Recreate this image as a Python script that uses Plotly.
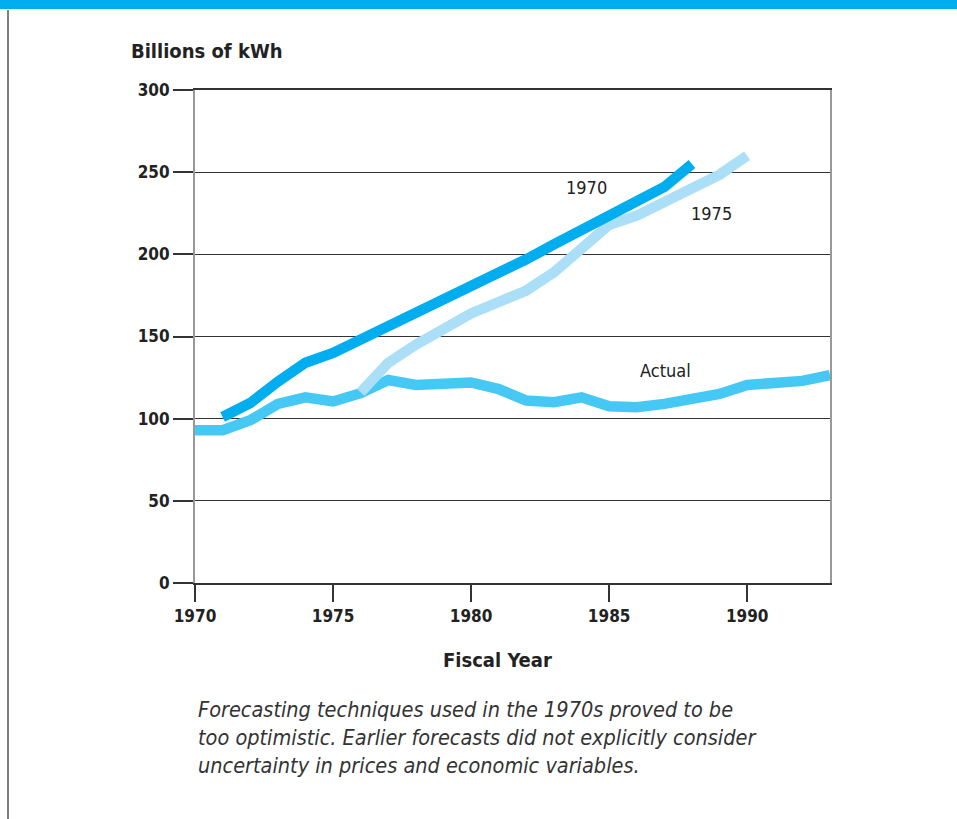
import plotly.graph_objects as go

years_actual = list(range(1970, 1994))
actual = [93, 93, 99, 109, 113, 110.5, 115.5, 123.5, 120.5, 122, 122, 118, 111, 110,
          113, 107.5, 107, 109, 112, 115, 120.5, 121.5, 123, 126.5]

years_f1970 = list(range(1971, 1989))
forecast_1970 = [101, 109.5, 122.5, 134, 140, 148, 156, 164, 172, 181, 189, 197, 206,
                 215, 223, 232, 241, 255]

years_f1975 = list(range(1976, 1991))
forecast_1975 = [116, 134, 145, 155, 164, 171, 178, 189, 203, 218, 223.5, 231.5, 240,
                 248.5, 260]

x_ticks = [1970, 1975, 1980, 1985, 1990]
y_ticks = [0, 50, 100, 150, 200, 250, 300]

W, H = 957, 819
L, R, T, B = 195, 127, 90, 236
PW, PH = W - L - R, H - T - B

def px(x):
    return (x - L) / PW

def py(y):
    return (H - B - y) / PH

FONT = "DejaVu Sans Condensed, Liberation Sans Narrow, Arial Narrow, sans-serif"
INK = "#222"

fig = go.Figure()
fig.add_trace(go.Scatter(x=years_actual, y=actual, mode="lines",
                         line=dict(color="#45C8F4", width=10.5), hoverinfo="skip"))
fig.add_trace(go.Scatter(x=years_f1975, y=forecast_1975, mode="lines",
                         line=dict(color="#AADFF7", width=10.5), hoverinfo="skip"))
fig.add_trace(go.Scatter(x=years_f1970, y=forecast_1970, mode="lines",
                         line=dict(color="#00AEEF", width=10.5), hoverinfo="skip"))

fig.update_layout(
    width=W, height=H,
    margin=dict(l=L, r=R, t=T, b=B),
    paper_bgcolor="white", plot_bgcolor="white",
    showlegend=False,
    font=dict(family=FONT, color=INK),
    xaxis=dict(range=[1970, 1993], tickvals=x_ticks, ticktext=[str(v) for v in x_ticks],
               showgrid=False, zeroline=False, ticks="outside", ticklen=17,
               tickcolor="#333", tickwidth=1.5,
               showline=True, linecolor="#333", linewidth=1.5, mirror=True,
               tickfont=dict(size=17, weight="bold", family=FONT, color=INK)),
    yaxis=dict(range=[0, 300], tickvals=y_ticks, showgrid=True, gridcolor="#333", gridwidth=1.2,
               zeroline=False, ticks="outside", ticklen=20, tickcolor="#333", tickwidth=1.5,
               showline=True, linecolor="#999", linewidth=2, mirror=True,
               tickfont=dict(size=17, weight="bold", family=FONT, color=INK)),
)

# frame decorations
fig.add_shape(type="rect", xref="paper", yref="paper", x0=px(0), x1=px(W), y0=py(9), y1=py(-2),
              fillcolor="#00AEEF", line=dict(width=0), layer="above")
fig.add_shape(type="line", xref="paper", yref="paper", x0=px(8), x1=px(8), y0=py(10), y1=py(H),
              line=dict(color="#555", width=1.5))

fig.add_annotation(xref="paper", yref="paper", x=px(129), y=py(51), xanchor="left", yanchor="middle",
                   text="Billions of kWh", showarrow=False,
                   font=dict(size=20, weight="bold", family=FONT, color=INK))

fig.add_annotation(xref="paper", yref="paper", x=px(497), y=py(660), xanchor="center", yanchor="middle",
                   text="Fiscal Year", showarrow=False,
                   font=dict(size=20, weight="bold", family=FONT, color=INK))

fig.add_annotation(x=1984.17, y=240.4, text="1970", showarrow=False,
                   font=dict(size=18, family=FONT, color=INK))
fig.add_annotation(x=1988.7, y=224.6, text="1975", showarrow=False,
                   font=dict(size=18, family=FONT, color=INK))
fig.add_annotation(x=1987.03, y=129.6, text="Actual", showarrow=False,
                   font=dict(size=18, family=FONT, color=INK))

fig.add_annotation(xref="paper", yref="paper", x=px(196), y=py(695), xanchor="left", yanchor="top",
                   align="left", showarrow=False,
                   text="<i>Forecasting techniques used in the 1970s proved to be<br>"
                        "too optimistic. Earlier forecasts did not explicitly consider<br>"
                        "uncertainty in prices and economic variables.</i>",
                   font=dict(size=21.5, family=FONT, color="#333"))

fig.write_html("out.html", config={"displayModeBar": False},
               post_script="document.body.style.margin='0';")
